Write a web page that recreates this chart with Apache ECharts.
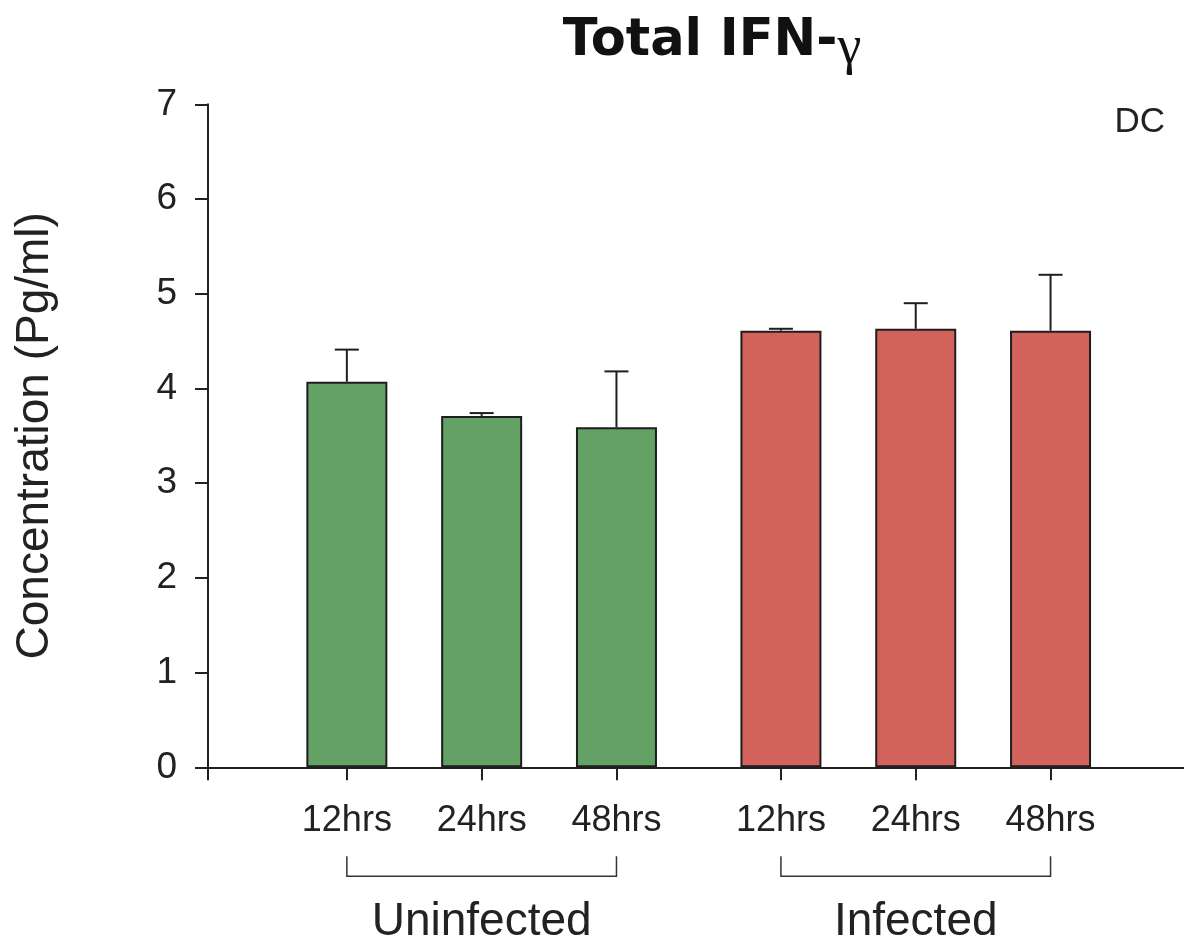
<!DOCTYPE html>
<html>
<head>
<meta charset="utf-8">
<title>Total IFN-γ</title>
<script src="https://cdn.jsdelivr.net/npm/echarts@6/dist/echarts.min.js"></script>
<style>
  html, body { margin: 0; padding: 0; background: #ffffff; }
  #chart { width: 1184px; height: 947px; }
</style>
</head>
<body>
<div id="chart"></div>
<script>
// Time points within each group, and the two groups
const timePoints = ['12hrs', '24hrs', '48hrs'];
const groups = ['Uninfected', 'Infected'];

// Mean concentration (Pg/ml) and upper error for each time point
const uninfectedMean = [4.07, 3.71, 3.59];
const uninfectedErr = [0.34, 0.03, 0.59];
const infectedMean = [4.61, 4.63, 4.61];
const infectedErr = [0.02, 0.27, 0.59];

// Y axis ticks
const yTicks = [0, 1, 2, 3, 4, 5, 6, 7];

const FONT = 'Liberation Sans, Arial, Helvetica, sans-serif';
const TEXT = '#222222';
const GROUP_GAP = 0.22;          // extra spacing between the two groups (in slot units)
const X_MIN = -0.03, X_MAX = 7.21;

// slot position of a bar on the x value axis
function slot(g, i) { return g * (timePoints.length + GROUP_GAP) + i + 1; }

const means = [uninfectedMean, infectedMean];
const errs = [uninfectedErr, infectedErr];
const colors = ['#63a264', '#d1625c'];

const positions = [];
const labelByPos = {};
groups.forEach((g, gi) => timePoints.forEach((t, i) => {
  const p = slot(gi, i);
  positions.push(p);
  labelByPos[p.toFixed(3)] = t;
}));

const barSeries = groups.map((g, gi) => ({
  name: g,
  type: 'bar',
  barWidth: 81,
  barGap: '-100%',
  data: means[gi].map((v, i) => [slot(gi, i), v]),
  itemStyle: { color: colors[gi], borderColor: '#1e1e1e', borderWidth: 2 },
  z: 2
}));

const errData = [];
groups.forEach((g, gi) => means[gi].forEach((v, i) => errData.push([slot(gi, i), v, errs[gi][i]])));

const bracketData = groups.map((g, gi) => [slot(gi, 0), slot(gi, timePoints.length - 1), gi]);

const chart = echarts.init(document.getElementById('chart'), null, { renderer: 'canvas' });

chart.setOption({
  backgroundColor: '#ffffff',
  animation: false,
  textStyle: { fontFamily: FONT },
  title: {
    text: 'Total IFN-{g|γ}',
    left: 707,
    top: 3,
    textAlign: 'center',
    textStyle: {
      fontFamily: 'DejaVu Sans, ' + FONT,
      fontSize: 51,
      fontWeight: 'bold',
      color: '#111111',
      rich: {
        g: { fontFamily: 'Liberation Serif, DejaVu Serif, serif', fontWeight: 'normal', fontSize: 54, color: '#111111', padding: [14, 0, 0, 0] }
      }
    }
  },
  graphic: [{
    type: 'text',
    right: 19,
    top: 105,
    style: { text: 'DC', font: '35px ' + FONT, fill: TEXT }
  }],
  grid: { left: 208, right: 0, top: 104.3, bottom: 179.7, containLabel: false },
  xAxis: {
    type: 'value',
    min: X_MIN,
    max: X_MAX,
    splitLine: { show: false },
    axisLine: { show: true, onZero: false, lineStyle: { color: TEXT, width: 2 } },
    axisTick: {
      show: true,
      length: 13,
      customValues: [X_MIN].concat(positions),
      lineStyle: { color: TEXT, width: 2 }
    },
    axisLabel: {
      show: true,
      customValues: positions,
      margin: 36,
      fontSize: 36,
      color: TEXT,
      fontFamily: FONT,
      formatter: v => labelByPos[Number(v).toFixed(3)] || ''
    }
  },
  yAxis: {
    type: 'value',
    min: 0,
    max: 7,
    interval: 1,
    name: 'Concentration (Pg/ml)',
    nameLocation: 'middle',
    nameRotate: 90,
    nameGap: 150,
    nameTextStyle: { fontSize: 46, color: TEXT, fontFamily: FONT },
    splitLine: { show: false },
    axisLine: { show: true, onZero: false, lineStyle: { color: TEXT, width: 2 } },
    axisTick: { show: true, length: 13, lineStyle: { color: TEXT, width: 2 } },
    axisLabel: {
      margin: 31,
      fontSize: 37,
      color: TEXT,
      fontFamily: FONT,
      formatter: v => (yTicks.indexOf(v) >= 0 ? String(v) : '')
    }
  },
  series: barSeries.concat([
    {
      name: 'error',
      type: 'custom',
      z: 3,
      data: errData,
      renderItem: (params, api) => {
        const x = api.value(0), m = api.value(1), e = api.value(2);
        const base = api.coord([x, m]);
        const top = api.coord([x, m + e]);
        const st = { stroke: '#1e1e1e', lineWidth: 2 };
        return {
          type: 'group',
          children: [
            { type: 'line', shape: { x1: base[0], y1: base[1], x2: top[0], y2: top[1] }, style: st },
            { type: 'line', shape: { x1: top[0] - 12, y1: top[1], x2: top[0] + 12, y2: top[1] }, style: st }
          ]
        };
      }
    },
    {
      name: 'groups',
      type: 'custom',
      clip: false,
      silent: true,
      data: bracketData,
      renderItem: (params, api) => {
        const a = api.coord([api.value(0), 0]);
        const b = api.coord([api.value(1), 0]);
        const gi = api.value(2);
        const y0 = a[1] + 89, y1 = a[1] + 109;
        const st = { stroke: '#333333', lineWidth: 1.5 };
        return {
          type: 'group',
          children: [
            { type: 'polyline', shape: { points: [[a[0], y0], [a[0], y1], [b[0], y1], [b[0], y0]] }, style: Object.assign({ fill: null }, st) },
            {
              type: 'text',
              x: (a[0] + b[0]) / 2,
              y: a[1] + 155,
              style: { text: groups[gi], font: '46px ' + FONT, fill: TEXT, align: 'center', verticalAlign: 'middle' }
            }
          ]
        };
      }
    }
  ])
});
</script>
</body>
</html>
